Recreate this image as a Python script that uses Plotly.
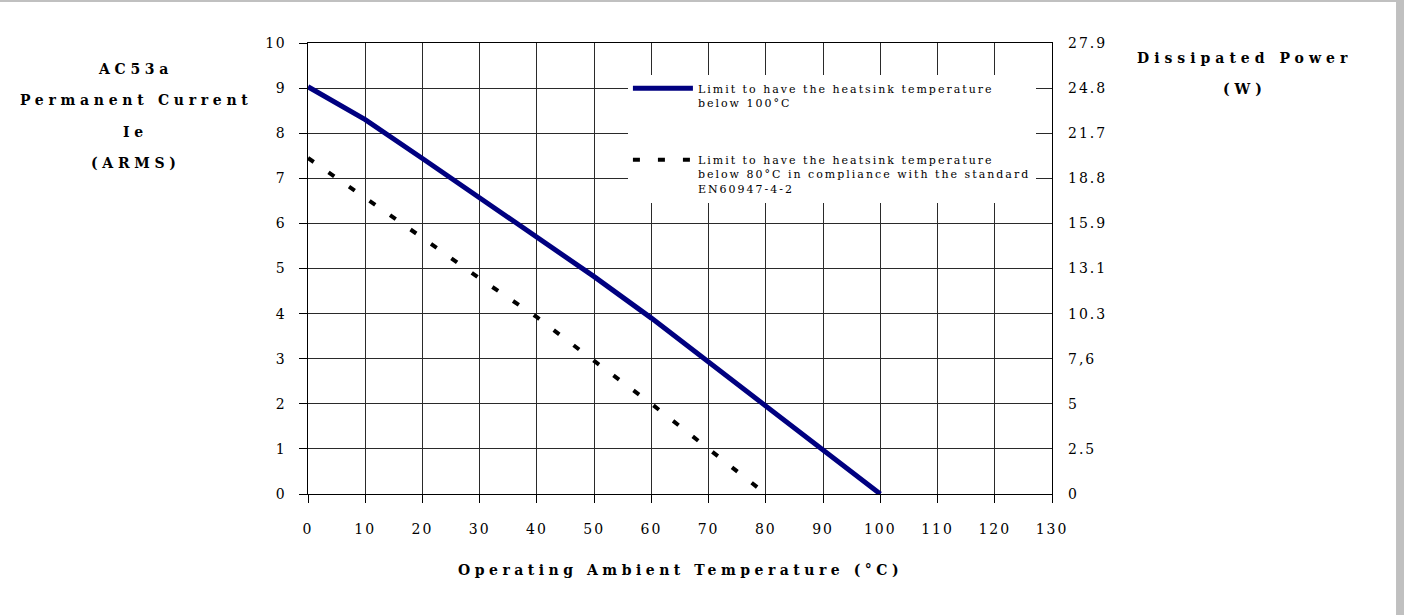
import plotly.graph_objects as go

# ---- data ----
temp_solid = [0, 10, 20, 30, 40, 50, 60, 70, 80, 90, 100]
current_solid = [9.03, 8.3, 7.44, 6.56, 5.71, 4.82, 3.9, 2.93, 1.95, 0.98, 0]

temp_dashed = [0, 10, 20, 30, 40, 50, 60, 70, 80]
current_dashed = [7.45, 6.57, 5.68, 4.78, 3.92, 2.95, 2.0, 1.0, 0]

x_ticks = [0, 10, 20, 30, 40, 50, 60, 70, 80, 90, 100, 110, 120, 130]
y_ticks = [0, 1, 2, 3, 4, 5, 6, 7, 8, 9, 10]
power_labels = ["0", "2.5", "5", "7,6", "10.3", "13.1", "15.9", "18.8", "21.7", "24.8", "27.9"]

name_solid = "Limit to have the heatsink temperature<br>below 100°C"
name_dashed = ("Limit to have the heatsink temperature<br>below 80°C in compliance with the standard"
               "<br>EN60947-4-2")

FONT = "DejaVu Serif"


def sp(text, ls):
    return '<span style="letter-spacing:%spx">%s</span>' % (ls, text)


def sp_lines(text, ls):
    return "<br>".join(sp(t, ls) for t in text.split("<br>"))


fig = go.Figure()
fig.add_trace(go.Scatter(
    x=temp_solid, y=current_solid, mode="lines",
    name=sp_lines(name_solid, 2), legendgroup="a",
    line=dict(color="#000080", width=5),
))
fig.add_trace(go.Scatter(
    x=temp_dashed, y=current_dashed, mode="lines", yaxis="y2",
    name=sp_lines(name_dashed, 2), legendgroup="b",
    line=dict(color="#000000", width=4, dash="7px,18px"),
))

axis_font = dict(family=FONT, size=14, color="black")
GRID = "#2a2a2a"

fig.update_layout(
    width=1404, height=615,
    margin=dict(l=308, r=352, t=43, b=121),
    paper_bgcolor="white", plot_bgcolor="white",
    showlegend=True,
    legend=dict(
        x=0.43, y=0.93, xanchor="left", yanchor="top",
        bgcolor="white", borderwidth=0,
        font=dict(family=FONT, size=11, color="black"),
        valign="top", itemwidth=60, tracegroupgap=40,
    ),
    xaxis=dict(
        range=[0, 130], tickvals=x_ticks,
        ticktext=[sp(str(v), 2) for v in x_ticks],
        showgrid=True, gridcolor=GRID, gridwidth=1,
        zeroline=False, showline=True, linecolor="black", linewidth=1, mirror=True,
        ticks="outside", ticklen=8, tickcolor="black",
        ticklabelstandoff=14, tickfont=axis_font, fixedrange=True,
    ),
    yaxis=dict(
        range=[0, 10], tickvals=y_ticks,
        ticktext=[sp(str(v), 1.5) for v in y_ticks],
        showgrid=True, gridcolor=GRID, gridwidth=1,
        zeroline=False, showline=True, linecolor="black", linewidth=1, mirror=True,
        ticks="outside", ticklen=8, tickcolor="black",
        ticklabelstandoff=10, tickfont=axis_font, fixedrange=True,
    ),
    yaxis2=dict(
        range=[0, 10], overlaying="y", side="right", anchor="x",
        tickvals=y_ticks, ticktext=[sp(t, 2) for t in power_labels],
        showgrid=False, zeroline=False, showline=False, ticks="",
        ticklabelstandoff=15, tickfont=axis_font, fixedrange=True,
    ),
)

title_font = dict(family=FONT, size=14, color="black")
ann = []
left_lines = ["AC53a", "Permanent Current", "Ie", "(ARMS)"]
left_y = [0.9424, 0.8736, 0.8027, 0.7339]
for t, yy in zip(left_lines, left_y):
    ann.append(dict(text="<b>" + sp(t, 4.7) + "</b>", x=-0.2312, y=yy, xref="paper", yref="paper",
                    xanchor="center", yanchor="middle", showarrow=False, font=title_font))
right_lines = ["Dissipated Power", "(W)"]
right_y = [0.9667, 0.898]
for t, yy in zip(right_lines, right_y):
    ann.append(dict(text="<b>" + sp(t, 5) + "</b>", x=1.2594, y=yy, xref="paper", yref="paper",
                    xanchor="center", yanchor="middle", showarrow=False, font=title_font))
ann.append(dict(text="<b>" + sp("Operating Ambient Temperature (°C)", 4.5) + "</b>", x=0.5, y=-0.1685,
                xref="paper", yref="paper", xanchor="center", yanchor="middle",
                showarrow=False, font=title_font))
fig.update_layout(annotations=ann)

# grey page frame (top line and right strip)
fig.add_shape(type="rect", xref="paper", yref="paper", x0=-0.42, x1=1.48, y0=1.091, y1=1.1,
              line=dict(width=0), fillcolor="#c0c0c0")
fig.add_shape(type="rect", xref="paper", yref="paper", x0=1.4624, x1=1.48, y0=-0.3, y1=1.1,
              line=dict(width=0), fillcolor="#c0c0c0")

fig.write_html("out.html", config=dict(displayModeBar=False),
               post_script="document.body.style.margin='0';")
